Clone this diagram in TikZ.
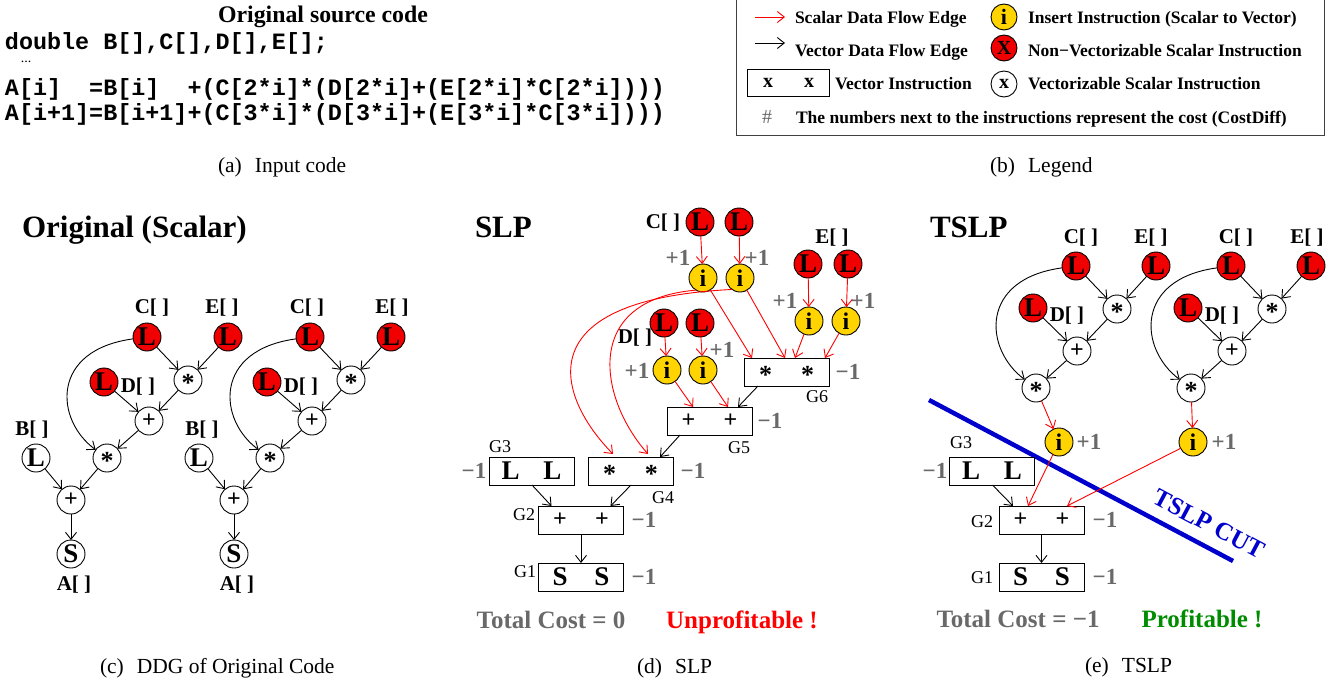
\documentclass[tikz,border=0pt]{standalone}
\usepackage{fontspec}
\setmainfont{Liberation Serif}
\setmonofont{Liberation Mono}
\usetikzlibrary{arrows.meta}
\definecolor{goldy}{RGB}{255,212,0}
\definecolor{costgray}{RGB}{105,105,105}
\definecolor{okgreen}{RGB}{0,140,0}
\definecolor{cutblue}{RGB}{0,0,205}
\definecolor{nred}{RGB}{240,0,0}
\newcommand\vpr[1]{\makebox[42pt]{#1}\makebox[42pt]{#1}}
\newcommand\stx{\raisebox{-3.2pt}{\fontsize{26}{26}\selectfont\bfseries *}}
\newcommand\plx{\raisebox{2pt}{\fontsize{24}{24}\selectfont\bfseries +}}
\begin{document}
\begin{tikzpicture}[x=1pt,y=-1pt,
  every node/.style={inner sep=0pt,outer sep=0pt},
  circ/.style={circle,draw,line width=0.9pt,minimum size=28pt,inner sep=0pt,text height=17.5pt,text depth=0pt},
  lfont/.style={font=\bfseries\fontsize{27}{27}\selectfont},
  rn/.style={circ,fill=nred,lfont},
  wn/.style={circ,fill=white,lfont},
  yn/.style={circ,fill=goldy,font=\bfseries\fontsize{24}{24}\selectfont},
  vb/.style={rectangle,draw,fill=white,line width=1pt,minimum width=85pt,minimum height=28pt,inner sep=0pt,text height=17.5pt,text depth=0pt,lfont},
  lbl/.style={font=\bfseries\fontsize{21}{21}\selectfont},
  ttl/.style={font=\bfseries\fontsize{31}{31}\selectfont,anchor=base west},
  cst/.style={font=\bfseries\fontsize{23}{23}\selectfont,text=costgray},
  gl/.style={font=\fontsize{18}{18}\selectfont},
  capt/.style={font=\fontsize{21.5}{22}\selectfont,anchor=base west},
  leg/.style={font=\bfseries\fontsize{17.5}{18}\selectfont,anchor=base west},
  codef/.style={font=\ttfamily\bfseries\fontsize{23.4}{24}\selectfont,anchor=base west},
  tot/.style={font=\bfseries\fontsize{25}{25}\selectfont,anchor=base},
  ar/.style={-{Straight Barb[length=7pt,width=11pt]},line width=0.9pt},
  rar/.style={ar,red}]
\useasboundingbox (0,0) rectangle (1340,680);

% ---------------- (a) input code
\node[anchor=base,font=\bfseries\fontsize{23.8}{24}\selectfont] (srct) at (323,23) {Original source code};
\node[codef] (cd1) at (5,49) {double B[],C[],D[],E[];};
\node[anchor=base,font=\fontsize{14}{14}\selectfont] (cdots) at (26,62) {...};
\node[codef] (cd2) at (5,95) {A[i]\hphantom{AA}=B[i]\hphantom{AA}+(C[2*i]*(D[2*i]+(E[2*i]*C[2*i])))};
\node[codef] (cd3) at (5,120) {A[i+1]=B[i+1]+(C[3*i]*(D[3*i]+(E[3*i]*C[3*i])))};
\node[capt] (capa) at (218,172) {(a)\hspace{13pt}Input code};

% ---------------- (b) legend
\draw[line width=1pt,black!75] (736,-5) rectangle (1324,135);
\coordinate (ra1) at (755,17); \coordinate (ra2) at (785,17);
\draw[rar] (ra1) -- (ra2);
\coordinate (ba1) at (755,43); \coordinate (ba2) at (785,43);
\draw[ar] (ba1) -- (ba2);
\node[leg] (lt1) at (795,23.3) {Scalar Data Flow Edge};
\node[leg] (lt2) at (795,56.7) {Vector Data Flow Edge};
\node[vb,minimum width=81pt,minimum height=27pt,text height=9.2pt,font=\bfseries\fontsize{20}{20}\selectfont] (lbx) at (788.5,82.5) {\makebox[41pt]{x}\makebox[41pt]{x}};
\node[leg] (lt3) at (835,89.3) {Vector Instruction};
\node[anchor=base,font=\fontsize{20}{20}\selectfont,text=costgray] (lhash) at (767,123.3) {\#};
\node[leg] (lt4) at (796,123.3) {The numbers next to the instructions represent the cost (CostDiff)};
\node[yn,minimum size=26pt,text height=15pt,font=\bfseries\fontsize{22}{22}\selectfont] (lyi) at (1004,17) {i};
\node[rn,minimum size=26pt,text height=13pt,font=\bfseries\fontsize{20}{20}\selectfont] (lrx) at (1004,48) {X};
\node[wn,minimum size=26pt,text height=9.2pt,font=\bfseries\fontsize{20}{20}\selectfont] (lwx) at (1004,84) {x};
\node[leg] (lt5) at (1028,23.3) {Insert Instruction (Scalar to Vector)};
\node[leg] (lt6) at (1028,56.7) {Non−Vectorizable Scalar Instruction};
\node[leg] (lt7) at (1028,89.3) {Vectorizable Scalar Instruction};
\node[capt] (capb) at (990,172) {(b)\hspace{13pt}Legend};

% ---------------- (c) original
\node[ttl] (ttlc) at (22,237) {Original (Scalar)};
\foreach \d/\s in {0/a,163/b}{
  \node[rn] (ocl\s) at ({147+\d},337) {L};
  \node[rn] (oel\s) at ({228+\d},337) {L};
  \node[wn] (osu\s) at ({188+\d},380) {\stx};
  \node[rn] (odl\s) at ({104+\d},382) {L};
  \node[wn] (opl\s) at ({149+\d},421) {\plx};
  \node[wn] (osl\s) at ({107+\d},458) {\stx};
  \node[wn] (obl\s) at ({36+\d},458) {L};
  \node[wn] (opb\s) at ({71+\d},500) {\plx};
  \node[wn] (oss\s) at ({71+\d},554) {S};
  \draw[ar] (ocl\s) -- (osu\s);
  \draw[ar] (oel\s) -- (osu\s);
  \draw[ar] (osu\s) -- (opl\s);
  \draw[ar] (odl\s) -- (opl\s);
  \draw[ar] (opl\s) -- (osl\s);
  \draw[ar] (ocl\s) .. controls ({50+\d},350) and ({55+\d},420) .. (osl\s);
  \draw[ar] (obl\s) -- (opb\s);
  \draw[ar] (osl\s) -- (opb\s);
  \draw[ar] (opb\s) -- (oss\s);
}
\node[lbl] (olc1) at (152,308) {C[~]};
\node[lbl] (ole1) at (222,308) {E[~]};
\node[lbl] (old1) at (138,387) {D[~]};
\node[lbl] (olb1) at (32,430) {B[~]};
\node[lbl] (ola1) at (74,585) {A[~]};
\node[lbl] (olc2) at (307,308) {C[~]};
\node[lbl] (ole2) at (392,308) {E[~]};
\node[lbl] (old2) at (301,387) {D[~]};
\node[lbl] (olb2) at (202,430) {B[~]};
\node[lbl] (ola2) at (237,585) {A[~]};
\node[capt] (capc) at (100,673) {(c)\hspace{13pt}DDG of Original Code};

% ---------------- (d) SLP
\node[ttl] (ttld) at (475,237) {SLP};
\node[lbl] (slc) at (663,223) {C[~]};
\node[lbl] (sle) at (832,238) {E[~]};
\node[lbl] (sld) at (635,338) {D[~]};
\node[rn] (cL1) at (700,222) {L};
\node[rn] (cL2) at (739,222) {L};
\node[yn] (ci1) at (703,278) {i};
\node[yn] (ci2) at (740,278) {i};
\node[rn] (eL1) at (808,264) {L};
\node[rn] (eL2) at (848,264) {L};
\node[yn] (ei1) at (809,321) {i};
\node[yn] (ei2) at (846,321) {i};
\node[rn] (dL1) at (664,323) {L};
\node[rn] (dL2) at (700,323) {L};
\node[yn] (di1) at (667,370) {i};
\node[yn] (di2) at (703,370) {i};
\node[cst] (sp1) at (678,258) {+1};
\node[cst] (sp2) at (757,258) {+1};
\node[cst] (sp3) at (785,301) {+1};
\node[cst] (sp4) at (863,301) {+1};
\node[cst] (sp5) at (637,371) {+1};
\node[cst] (sp6) at (722,350) {+1};
\node[vb] (g6) at (786.5,372) {\vpr{\stx}};
\node[vb] (g5) at (709.5,421) {\vpr{\plx}};
\node[vb] (g3) at (531.5,471) {\vpr{L}};
\node[vb] (g4) at (630.5,471) {\vpr{\stx}};
\node[vb] (g2) at (581,520) {\vpr{\plx}};
\node[vb] (g1) at (581,577) {\vpr{S}};
\node[gl] (g6l) at (817,397) {G6};
\node[gl] (g5l) at (739,448) {G5};
\node[gl] (g3l) at (500,447) {G3};
\node[gl] (g4l) at (663,498) {G4};
\node[gl] (g2l) at (524,515) {G2};
\node[gl] (g1l) at (525,572) {G1};
\node[cst] (sm6) at (848,372) {−1};
\node[cst] (sm5) at (770,421) {−1};
\node[cst] (sm3) at (474,471) {−1};
\node[cst] (sm4) at (693,471) {−1};
\node[cst] (sm2) at (644,520) {−1};
\node[cst] (sm1) at (644,577) {−1};
\draw[rar] (cL1) -- (ci1);
\draw[rar] (cL2) -- (ci2);
\draw[rar] (eL1) -- (ei1);
\draw[rar] (eL2) -- (ei2);
\draw[rar] (dL1) -- (di1);
\draw[rar] (dL2) -- (di2);
\draw[rar] (ci1) -- ([xshift=8pt]g6.north west);
\draw[rar] (ci2) -- ([xshift=41pt]g6.north west);
\draw[rar] (ei1) -- ([xshift=51pt]g6.north west);
\draw[rar] (ei2) -- ([xshift=81pt]g6.north west);
\draw[rar] (di1) -- ([xshift=26pt]g5.north west);
\draw[rar] (di2) -- ([xshift=61pt]g5.north west);
\draw[rar] (ci2.235) .. controls (520,300) and (560,400) .. ([xshift=25pt,yshift=3pt]g4.north west);
\draw[rar] (ci1.240) .. controls (580,300) and (600,400) .. ([xshift=60pt,yshift=3pt]g4.north west);
\draw[ar] ([xshift=14pt]g6.south west) -- ([xshift=71pt]g5.north west);
\draw[ar] ([xshift=13pt]g5.south west) -- ([xshift=72pt]g4.north west);
\draw[ar] ([xshift=43pt]g3.south west) -- ([xshift=13pt]g2.north west);
\draw[ar] ([xshift=43pt]g4.south west) -- ([xshift=72pt]g2.north west);
\draw[ar] (g2) -- (g1);
\node[tot,text=costgray] (stot) at (551,628) {Total Cost = 0};
\node[tot,text=red] (sunp) at (742,628) {Unprofitable !};
\node[capt] (capd) at (637,673) {(d)\hspace{13pt}SLP};

% ---------------- (e) TSLP
\node[ttl] (ttle) at (930,237) {TSLP};
\coordinate (cutA) at (929,400);
\coordinate (cutB) at (1233,561);
\draw[cutblue,line width=4.5pt] (cutA) -- (cutB);
\node[rotate=-28,font=\bfseries\fontsize{25}{25}\selectfont,text=cutblue] (cutt) at (1209,524) {TSLP CUT};
\foreach \d/\s in {0/a,155/b}{
  \node[rn] (tcl\s) at ({1076+\d},266) {L};
  \node[rn] (tel\s) at ({1156+\d},266) {L};
  \node[wn] (tsu\s) at ({1117+\d},309) {\stx};
  \node[rn] (tdl\s) at ({1033+\d},308) {L};
  \node[wn] (tpl\s) at ({1077+\d},351) {\plx};
  \node[wn] (tsl\s) at ({1036+\d},388) {\stx};
  \draw[ar] (tcl\s) -- (tsu\s);
  \draw[ar] (tel\s) -- (tsu\s);
  \draw[ar] (tsu\s) -- (tpl\s);
  \draw[ar] (tdl\s) -- (tpl\s);
  \draw[ar] (tpl\s) -- (tsl\s);
  \draw[ar] (tcl\s) .. controls ({979+\d},279) and ({984+\d},349) .. (tsl\s);
}
\node[lbl] (tlc1) at (1081,238) {C[~]};
\node[lbl] (tle1) at (1151,238) {E[~]};
\node[lbl] (tld1) at (1067,316) {D[~]};
\node[lbl] (tlc2) at (1236,238) {C[~]};
\node[lbl] (tle2) at (1307,238) {E[~]};
\node[lbl] (tld2) at (1222,316) {D[~]};
\node[yn] (tia) at (1059,442) {i};
\node[yn] (tib) at (1193,442) {i};
\node[cst] (tpa) at (1089,442) {+1};
\node[cst] (tpb) at (1224,442) {+1};
\node[vb] (tg3) at (992,471) {\vpr{L}};
\node[vb] (tg2) at (1041.5,520) {\vpr{\plx}};
\node[vb] (tg1) at (1041.5,577) {\vpr{S}};
\node[gl] (tg3l) at (961,443) {G3};
\node[gl] (tg2l) at (982,522) {G2};
\node[gl] (tg1l) at (982,578) {G1};
\node[cst] (tm3) at (935,471) {−1};
\node[cst] (tm2) at (1105,520) {−1};
\node[cst] (tm1) at (1105,577) {−1};
\draw[rar] (tsla) -- (tia);
\draw[rar] (tslb) -- (tib);
\draw[rar] (tia) -- ([xshift=29pt]tg2.north west);
\draw[rar] (tib) -- ([xshift=68pt]tg2.north west);
\draw[ar] ([xshift=43pt]tg3.south west) -- ([xshift=14pt]tg2.north west);
\draw[ar] (tg2) -- (tg1);
\node[tot,text=costgray] (ttot) at (1018,627) {Total Cost = −1};
\node[tot,text=okgreen] (tprof) at (1202,627) {Profitable !};
\node[capt] (cape) at (1085,672) {(e)\hspace{13pt}TSLP};
\end{tikzpicture}
\end{document}
